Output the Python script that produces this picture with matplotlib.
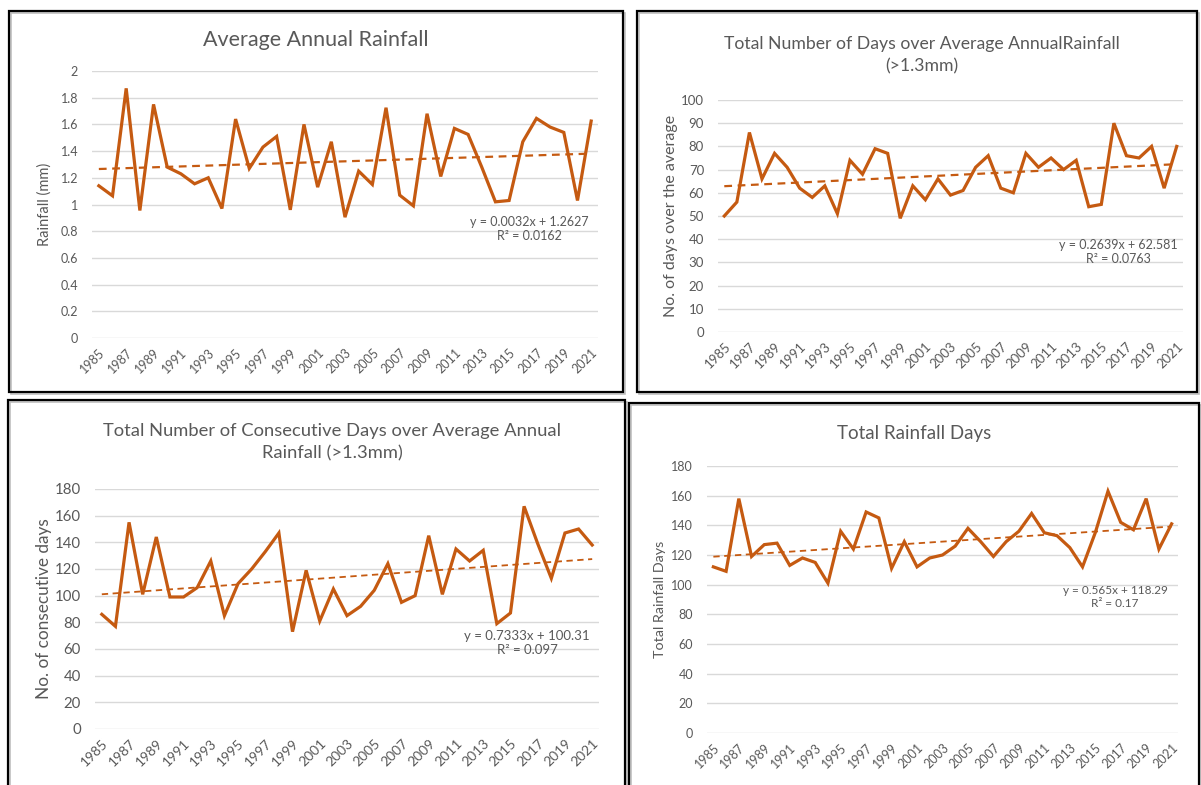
import matplotlib
matplotlib.use("Agg")
import matplotlib.pyplot as plt
from matplotlib.patches import Rectangle
import numpy as np

plt.rcParams['font.family'] = ['Lato', 'DejaVu Sans']

years = list(range(1985, 2022))

avg_rainfall = [1.14, 1.065, 1.87, 0.955, 1.75, 1.28, 1.23, 1.155, 1.20, 0.97,
                1.64, 1.27, 1.43, 1.51, 0.96, 1.60, 1.13, 1.47, 0.905, 1.25,
                1.15, 1.725, 1.07, 0.99, 1.68, 1.21, 1.57, 1.525, 1.28, 1.02,
                1.03, 1.47, 1.645, 1.58, 1.54, 1.03, 1.625]

days_over_avg = [50, 56, 86, 66, 77, 71, 62, 58, 63, 51,
                 74, 68, 79, 77, 49, 63, 57, 66, 59, 61,
                 71, 76, 62, 60, 77, 71, 75, 70, 74, 54,
                 55, 90, 76, 75, 80, 62, 80]

consecutive_days = [86, 77, 155, 101, 144, 99, 99, 106, 126, 85,
                    109, 120, 133, 147, 73, 119, 81, 105, 85, 92,
                    104, 124, 95, 100, 145, 101, 135, 126, 134, 79,
                    87, 167, 139, 113, 147, 150, 138]

total_rain_days = [112, 109, 158, 119, 127, 128, 113, 118, 115, 101,
                   136, 124, 149, 145, 111, 129, 112, 118, 120, 126,
                   138, 129, 119, 129, 136, 148, 135, 133, 125, 112,
                   135, 163, 142, 137, 158, 124, 141]

titles = ["Average Annual Rainfall",
          "Total Number of Days over Average AnnualRainfall\n(>1.3mm)",
          "Total Number of Consecutive Days over Average Annual\nRainfall (>1.3mm)",
          "Total Rainfall Days"]
ylabels = ["Rainfall (mm)", "No. of days over the average",
           "No. of consecutive days", "Total Rainfall Days"]
slopes = [0.0032, 0.2639, 0.7333, 0.565]
intercepts = [1.2627, 62.581, 100.31, 118.29]
eq_texts = ["y = 0.0032x + 1.2627\nR² = 0.0162",
            "y = 0.2639x + 62.581\nR² = 0.0763",
            "y = 0.7333x + 100.31\nR² = 0.097",
            "y = 0.565x + 118.29\nR² = 0.17"]

W, H = 1201, 785
fig = plt.figure(figsize=(W / 100, H / 100), dpi=100)
fig.patch.set_facecolor('white')

LINE = '#C55A11'
TXT = '#595959'
GRID = '#D9D9D9'


def rect(x0, x1, ytop, ybot):
    return [x0 / W, 1 - ybot / H, (x1 - x0) / W, (ybot - ytop) / H]


# panel boxes
boxes = [(9, 11, 623, 392), (637, 11, 1197, 392), (8, 400, 625, 790), (629, 403, 1199, 790)]
for (x0, y0, x1, y1) in boxes:
    fig.patches.append(Rectangle((x0 / W + 1.5 / W, 1 - y1 / H - 1.5 / H), (x1 - x0) / W, (y1 - y0) / H,
                                 transform=fig.transFigure, fill=False, edgecolor='#BFBFBF', lw=1.2, zorder=0))
    fig.patches.append(Rectangle((x0 / W, 1 - y1 / H), (x1 - x0) / W, (y1 - y0) / H,
                                 transform=fig.transFigure, fill=False, edgecolor='black', lw=1.6, zorder=1))

panels = [
    dict(data=avg_rainfall, rect=rect(92, 598, 71, 338), ylim=(0, 2), ystep=0.2,
         title_xy=(316, 40), tfs=15.5, ylab_x=45, ylfs=10.5, ytkfs=9, xtkfs=9,
         eq_xy=(529, 229), eqfs=9, fmt=lambda v: ('%g' % round(v, 1)), tlw=1.6),
    dict(data=days_over_avg, rect=rect(718, 1183, 100, 332), ylim=(0, 100), ystep=10,
         title_xy=(922, 55), tfs=12.7, ylab_x=671, ylfs=11.5, ytkfs=9.5, xtkfs=9.5,
         eq_xy=(1118, 252), eqfs=9, fmt=lambda v: '%d' % v, tlw=1.6),
    dict(data=consecutive_days, rect=rect(95, 599, 489, 729), ylim=(0, 180), ystep=20,
         title_xy=(332, 442), tfs=13.2, ylab_x=44, ylfs=12.4, ytkfs=10.8, xtkfs=10,
         eq_xy=(527, 643), eqfs=9.5, fmt=lambda v: '%d' % v, tlw=1.3),
    dict(data=total_rain_days, rect=rect(707, 1178, 466, 733), ylim=(0, 180), ystep=20,
         title_xy=(914, 434), tfs=13.5, ylab_x=660, ylfs=10.3, ytkfs=9, xtkfs=9,
         eq_xy=(1115, 597), eqfs=8.5, fmt=lambda v: '%d' % v, tlw=1.3),
]

x_idx = np.arange(len(years))
for i, p in enumerate(panels):
    ax = fig.add_axes(p['rect'])
    ax.plot(x_idx, p['data'], color=LINE, lw=2.3, solid_joinstyle='miter', zorder=3)
    trend = slopes[i] * (x_idx + 1) + intercepts[i]
    ax.plot(x_idx, trend, color=LINE, lw=p['tlw'], dashes=(3.5, 2.5), zorder=2)
    ax.set_xlim(-0.5, len(years) - 0.5)
    ax.set_ylim(*p['ylim'])
    yt = np.arange(p['ylim'][0], p['ylim'][1] + p['ystep'] / 2, p['ystep'])
    ax.set_yticks(yt)
    ax.set_yticklabels([p['fmt'](v) for v in yt], fontsize=p['ytkfs'], color=TXT)
    ax.set_xticks(x_idx[::2])
    ax.set_xticklabels([str(y) for y in years[::2]], rotation=45, ha='right',
                       rotation_mode='anchor', fontsize=p['xtkfs'], color=TXT)
    ax.tick_params(axis='both', length=0)
    ax.tick_params(axis='y', pad=10)
    ax.tick_params(axis='x', pad=6)
    for s in ax.spines.values():
        s.set_visible(False)
    ax.yaxis.grid(True, color=GRID, lw=1.0)
    ax.set_axisbelow(True)
    ax.patch.set_alpha(0)
    fig.text(p['title_xy'][0] / W, 1 - p['title_xy'][1] / H, titles[i], ha='center', va='center',
             fontsize=p['tfs'], color=TXT, linespacing=1.5)
    y0, y1 = p['rect'][1], p['rect'][1] + p['rect'][3]
    fig.text(p['ylab_x'] / W, (y0 + y1) / 2, ylabels[i], rotation=90, ha='center', va='center',
             fontsize=p['ylfs'], color=TXT)
    fig.text(p['eq_xy'][0] / W, 1 - p['eq_xy'][1] / H, eq_texts[i], ha='center', va='center',
             fontsize=p['eqfs'], color=TXT, linespacing=1.25)

fig.savefig('out.png', dpi=100, facecolor='white')
